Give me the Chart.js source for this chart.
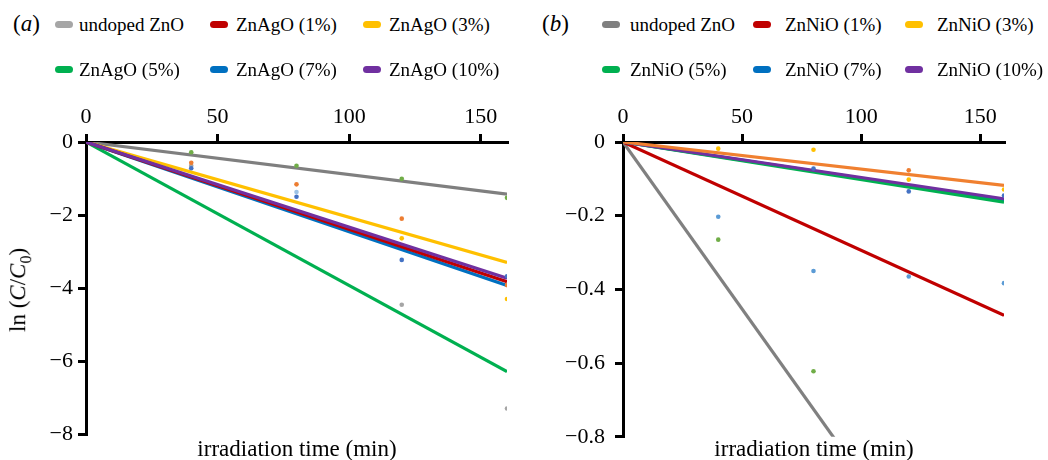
<!DOCTYPE html>
<html>
<head>
<meta charset="utf-8">
<script src="https://cdn.jsdelivr.net/npm/chart.js@4/dist/chart.umd.min.js"></script>
<style>
  body { margin: 0; background: #fff; width: 1048px; height: 460px; position: relative; overflow: hidden;
         font-family: "Liberation Serif", serif; color: #000; }
  canvas { position: absolute; }
  .lbl { position: absolute; white-space: nowrap; line-height: 1; }
  .sw { position: absolute; width: 18px; height: 7px; border-radius: 4px; }
  .lt { position: absolute; font-size: 19px; line-height: 1; white-space: nowrap; }
</style>
</head>
<body>
<canvas id="chartA" width="520" height="380" style="left:0;top:80px"></canvas>
<canvas id="chartB" width="528" height="380" style="left:520px;top:80px"></canvas>

<div class="lbl" style="left:13px;top:12px;font-size:23px">(<i>a</i>)</div>
<div class="lbl" style="left:542px;top:12px;font-size:23px">(<i>b</i>)</div>
<div id="legendA"></div>
<div id="legendB"></div>

<div class="lbl" style="left:20px;top:290px;font-size:23px;transform:translate(-50%,-50%) rotate(-90deg)">ln (<i>C</i>/<i>C</i><sub style="font-size:16px">0</sub>)</div>
<div class="lbl" style="left:297px;top:437px;font-size:23px;transform:translateX(-50%)">irradiation time (min)</div>
<div class="lbl" style="left:814px;top:437px;font-size:23px;transform:translateX(-50%)">irradiation time (min)</div>

<script>
// ---- data ----
const sampleTimes = [40, 80, 120, 160];
const fitTimes = [0, 160];
const xTickValues = [0, 50, 100, 150];
const yTicksA = [0, -2, -4, -6, -8];
const yTicksB = [0, -0.2, -0.4, -0.6, -0.8];

// panel (a) ZnAgO
const namesA = ['undoped ZnO', 'ZnAgO (1%)', 'ZnAgO (3%)', 'ZnAgO (5%)', 'ZnAgO (7%)', 'ZnAgO (10%)'];
const legendColorsA = ['#A6A6A6', '#C00000', '#FFC000', '#00B050', '#0070C0', '#7030A0'];
const lineColorsA = ['#7F7F7F', '#C00000', '#FFC000', '#00B050', '#0070C0', '#7030A0'];
// trend line value at fitTimes (0 and 160 min)
const fitA = [
  [0, -1.43],   // undoped
  [0, -3.83],   // 1%
  [0, -3.30],   // 3%
  [0, -6.29],   // 5%
  [0, -3.93],   // 7%
  [0, -3.73]    // 10%
];
// measured points (at sampleTimes)
const dotsGreenA = [-0.28, -0.65, -1.01, -1.53];
const dotsOrangeA = [-0.57, -1.16, -2.10, -3.92];
const dotsBlueA = [-0.72, -1.50, -3.23, -3.68];
const dotsLightBlueA = [null, -1.37, null, null];
const dotsYellowA = [null, null, -2.64, -4.30];
const dotsGrayA = [-0.65, null, -4.46, -7.30];

// panel (b) ZnNiO
const namesB = ['undoped ZnO', 'ZnNiO (1%)', 'ZnNiO (3%)', 'ZnNiO (5%)', 'ZnNiO (7%)', 'ZnNiO (10%)'];
const legendColorsB = ['#808080', '#C00000', '#FFC000', '#00B050', '#0070C0', '#7030A0'];
const lineColorsB = ['#808080', '#C00000', '#F08030', '#00B050', '#0070C0', '#7030A0'];
const fitB = [
  [0, -1.45],
  [0, -0.47],
  [0, -0.1175],
  [0, -0.163],
  [0, -0.158],
  [0, -0.154]
];
const dotsYellowB = [-0.018, -0.021, -0.102, -0.129];
const dotsLightBlueB = [-0.203, -0.350, -0.365, -0.383];
const dotsGreenB = [-0.265, -0.622, null, null];
const dotsBlueB = [null, -0.072, -0.134, -0.145];
const dotsOrangeB = [null, null, -0.077, null];

// ---- helpers ----
function toPoints(xs, ys) {
  let pts = [];
  xs.forEach((x, i) => {
    if (ys[i] !== null) pts.push({ x: x, y: ys[i] });
  });
  return pts;
}

function dotSet(vals, color) {
  return { data: toPoints(sampleTimes, vals), showLine: false, pointRadius: 2.3,
           pointBorderWidth: 0, pointBackgroundColor: color, order: 0 };
}

function lineSet(ends, color, order) {
  return { data: toPoints(fitTimes, ends), showLine: true, borderColor: color, borderWidth: 3.2,
           pointRadius: 0, order: order };
}

function minusFmt(v, digits) {
  if (v === 0) return '0';
  return '\u2212' + Math.abs(v).toFixed(digits);
}

function makeScales(yMin, yTicks, digits, yWidth, yPad) {
  const font = { family: 'Liberation Serif', size: 22 };
  const grid = { display: true, drawOnChartArea: false, drawTicks: true, tickLength: 8, color: '#000', lineWidth: 3 };
  return {
    x: {
      type: 'linear', position: 'top', min: 0, max: 160,
      afterBuildTicks: s => { s.ticks = xTickValues.map(v => ({ value: v })); },
      afterFit: s => { s.height = 62; },
      grid: grid,
      border: { display: true, color: '#000', width: 3 },
      ticks: { color: '#000', font: font, padding: 4, maxRotation: 0 }
    },
    y: {
      type: 'linear', min: yMin, max: 0,
      afterBuildTicks: s => { s.ticks = yTicks.map(v => ({ value: v })); },
      afterFit: s => { s.width = yWidth; },
      grid: grid,
      border: { display: true, color: '#000', width: 3 },
      ticks: { color: '#000', font: font, padding: yPad, callback: v => minusFmt(v, digits) }
    }
  };
}

function makeLegend(id, names, colors, swatchX, textX) {
  const box = document.getElementById(id);
  const rowTop = [20, 65];
  names.forEach((name, i) => {
    const r = Math.floor(i / 3), c = i % 3;
    const sw = document.createElement('div');
    sw.className = 'sw';
    sw.style.left = swatchX[c] + 'px';
    sw.style.top = (rowTop[r] + 1) + 'px';
    sw.style.background = colors[i];
    box.appendChild(sw);
    const t = document.createElement('div');
    t.className = 'lt';
    t.style.left = textX[c] + 'px';
    t.style.top = (rowTop[r] - 5) + 'px';
    t.textContent = name;
    box.appendChild(t);
  });
}

// ---- chart (a) ----
let datasetsA = [
  dotSet(dotsGreenA, '#70AD47'),
  dotSet(dotsOrangeA, '#ED7D31'),
  dotSet(dotsBlueA, '#4472C4'),
  dotSet(dotsLightBlueA, '#9DC3E6'),
  dotSet(dotsYellowA, '#FFC000'),
  dotSet(dotsGrayA, '#A5A5A5'),
  lineSet(fitA[5], lineColorsA[5], 1),
  lineSet(fitA[1], lineColorsA[1], 2),
  lineSet(fitA[4], lineColorsA[4], 3),
  lineSet(fitA[2], lineColorsA[2], 4),
  lineSet(fitA[0], lineColorsA[0], 5),
  lineSet(fitA[3], lineColorsA[3], 6)
];

new Chart(document.getElementById('chartA'), {
  type: 'scatter',
  data: { datasets: datasetsA },
  options: {
    responsive: false, animation: false, devicePixelRatio: 1,
    layout: { padding: { left: 0, right: 13, top: 0, bottom: 26 } },
    plugins: { legend: { display: false }, tooltip: { enabled: false } },
    scales: makeScales(-8, yTicksA, 0, 86, 5)
  }
});

// ---- chart (b) ----
let datasetsB = [
  dotSet(dotsYellowB, '#FFC000'),
  dotSet(dotsLightBlueB, '#5B9BD5'),
  dotSet(dotsGreenB, '#70AD47'),
  dotSet(dotsBlueB, '#4472C4'),
  dotSet(dotsOrangeB, '#ED7D31'),
  lineSet(fitB[2], lineColorsB[2], 1),
  lineSet(fitB[5], lineColorsB[5], 2),
  lineSet(fitB[3], lineColorsB[3], 3),
  lineSet(fitB[4], lineColorsB[4], 4),
  lineSet(fitB[1], lineColorsB[1], 5),
  lineSet(fitB[0], lineColorsB[0], 6)
];

new Chart(document.getElementById('chartB'), {
  type: 'scatter',
  data: { datasets: datasetsB },
  options: {
    responsive: false, animation: false, devicePixelRatio: 1,
    layout: { padding: { left: 0, right: 44, top: 0, bottom: 23 } },
    plugins: { legend: { display: false }, tooltip: { enabled: false } },
    scales: makeScales(-0.8, yTicksB, 1, 103, 10)
  }
});

makeLegend('legendA', namesA, legendColorsA, [55, 210, 363], [79, 236, 389]);
makeLegend('legendB', namesB, legendColorsB, [602, 753, 905], [630, 785, 937]);
</script>
</body>
</html>
